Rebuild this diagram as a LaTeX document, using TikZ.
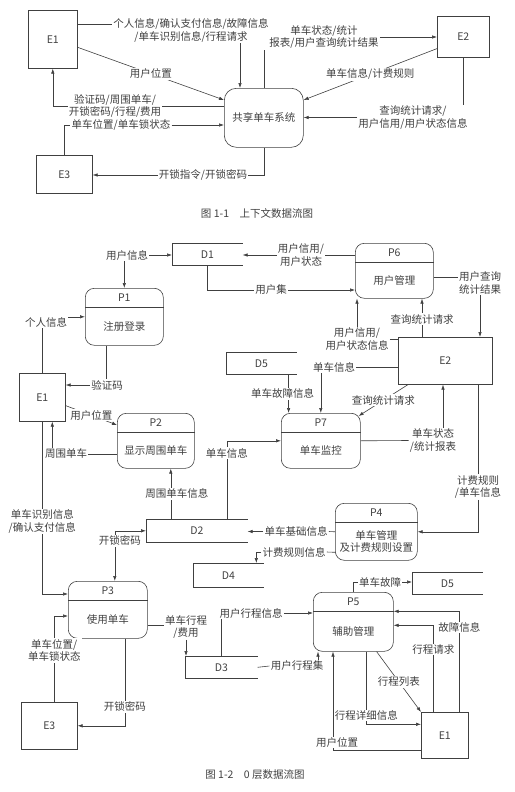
\documentclass[tikz,border=0pt]{standalone}
\usepackage{fontspec}
\setmainfont{Noto Sans CJK SC}
\usetikzlibrary{arrows.meta}

\begin{document}
\begin{tikzpicture}[x=1pt,y=-1pt,font=\fontsize{10.5}{12.5}\selectfont,color=black!75,line width=0.6pt]
    \tikzset{
    ext/.style={draw,anchor=north west,inner sep=0},
    proc/.style={draw,rounded corners=9pt,anchor=north west,inner sep=0},
    store/.style={anchor=north west,inner sep=0},
    lbl/.style={fill=white,inner sep=1pt,align=center},
    flow/.style={-{Latex[length=5pt,width=3.5pt]}}
    }
    \useasboundingbox (0,0) rectangle (514,792);

    % context diagram
    \node[ext,minimum width=49,minimum height=58] (xE1) at (28,10) {E1};
    \node[ext,minimum width=52,minimum height=41] (xE2) at (437,16) {E2};
    \node[ext,minimum width=56,minimum height=38] (xE3) at (36,155) {E3};
    \node[proc,rounded corners=12pt,minimum width=79,minimum height=59] (xSys) at (224,88) {共享单车系统};

    \node[lbl] (t1) at (191,30.5) {个人信息/确认支付信息/故障信息\\/单车识别信息/行程请求};
    \node[lbl] (t2) at (324,37) {单车状态/统计\\报表/用户查询统计结果};
    \node[lbl] (t4) at (413,117.5) {查询统计请求/\\用户信用/用户状态信息};
    \node[lbl] (t6) at (115,106) {验证码/周围单车/\\开锁密码/行程/费用};
    \node[lbl] (t7) at (121,125) {单车位置/单车锁状态};
    \node[lbl] (t8) at (203,175) {开锁指令/开锁密码};

    \coordinate (t1in) at ([yshift=6pt]t1.west);
    \coordinate (t1out) at ([xshift=16pt]xSys.north west);
    \draw (xE1.east |- t1in) -- (t1in);
    \draw[flow] (t1.south -| t1out) -- (t1out);
    \draw (xSys.north) -- (xSys.north |- t2.south);
    \draw[flow] (t2.east) -- (t2.east -| xE2.west);
    \draw[flow] ([yshift=9pt]xE2.south west) -- node[lbl]{单车信息/计费规则} ([yshift=-12pt]xSys.north east);
    \draw (xE2.south) -- (xE2.south |- t4.north);
    \draw[flow] (t4.west) -- (t4.west -| xSys.east);
    \draw[flow] ([yshift=-8pt]xE1.east) -- node[lbl]{用户位置} ([yshift=-12pt]xSys.north west);
    \draw (t6.east -| xSys.west) -- (t6.east);
    \draw[flow] (t6.west) -| (xE1.south);
    \draw (xE3.north) |- (t7.west);
    \draw[flow] (t7.east) -- (t7.east -| xSys.west);
    \draw (xSys.south) |- (t8.east);
    \draw[flow] (t8.west) -- (t8.west -| xE3.east);

    \node (cap1) at (257,213) {图 1-1\quad 上下文数据流图};

    % level 0 diagram
    \foreach \n/\x/\y/\w/\h/\t in {
        P1/85/288/78/57/注册登录,
        P6/355/243/78/55/用户管理,
        P2/117/413/77/55/显示周围单车,
        P7/281/413/79/55/单车监控,
        P4/335/503/82/57/{单车管理\\及计费规则设置},
        P3/68/581/79/57/使用单车,
        P5/313/592/80/59/辅助管理}{
        \node[proc,minimum width=\w,minimum height=\h] (\n) at (\x,\y) {};
        \draw ([yshift=-19pt]\n.north west) -- ([yshift=-19pt]\n.north east);
        \node (\n-id) at ([yshift=-9.5pt]\n.north) {\n};
        \node[align=center] (\n-txt) at ([yshift=-9.5pt]\n.center) {\t};
    }

    \node[ext,minimum width=46,minimum height=48] (E1) at (19,373) {E1};
    \node[ext,minimum width=94,minimum height=47] (E2) at (398,337) {E2};
    \node[ext,minimum width=56,minimum height=47] (E3) at (21,702) {E3};
    \node[ext,minimum width=47,minimum height=46] (E1r) at (421,712) {E1};

    \foreach \n/\x/\y/\w/\h/\t in {D1/172/243/70/22/D1, D5a/226/352/70/22/D5,
        D2/146/519/101/23/D2, D4/193/563/70/24/D4, D5b/412/572/70/22/D5, D3/185/656/72/22/D3}{
        \node[store,minimum width=\w,minimum height=\h] (\n) at (\x,\y) {\t};
        \draw (\n.north east) -- (\n.north west) -- (\n.south west) -- (\n.south east);
    }

    % P1, P6 and E2
    \node[lbl] (f1) at (127,255) {用户信息};
    \draw[flow] (f1.east) -- (f1.east -| D1.west);
    \draw[flow] (f1.south -| P1.north) -- (P1.north);
    \node[lbl] (f2) at (301,255) {用户信用/\\用户状态};
    \draw (f2.east) -- (f2.east -| P6.west);
    \draw[flow] (f2.west) -- (f2.west -| D1.east);
    \node[lbl] (f3) at (271,290) {用户集};
    \draw (D1.south) |- (f3.west);
    \draw[flow] (f3.east) -- (f3.east -| P6.west);
    \node[lbl] (f4) at (480,283) {用户查询\\统计结果};
    \coordinate (f4in) at ([yshift=6pt]f4.west);
    \draw (f4in -| P6.east) -- (f4in);
    \draw[flow] (f4.south) -- (f4.south |- E2.north);
    \node[lbl] (f5) at (422,319) {查询统计请求};
    \draw[flow] (f5.north) -- (f5.north |- P6.south);
    \draw (f5.south) -- (f5.south |- E2.north);
    \node[lbl] (f6) at (357,339) {用户信用/\\用户状态信息};
    \draw (f6.east) -- (f6.east -| E2.west);
    \draw[flow] (f6.north) -- (f6.north |- P6.south);

    % P7
    \node[lbl] (f7) at (334,367) {单车信息};
    \draw (f7.east) -- (f7.east -| E2.west);
    \draw[flow] (f7.south -| P7.north) -- (P7.north);
    \coordinate (f8) at ([xshift=-8pt]D5a.south east);
    \draw[flow] (f8) -- node[lbl,xshift=-6pt]{单车故障信息} (f8 |- P7.north);
    \draw[flow] ([xshift=10pt]E2.south west) -- node[lbl]{查询统计请求} ([shift={(-2pt,-3pt)}]P7.north east);
    \node[lbl] (f10) at (433,440.5) {单车状态\\/统计报表};
    \draw (P7.east) -- (f10.west);
    \coordinate (f10out) at ([xshift=10pt]f10.north);
    \draw[flow] (f10out) -- (f10out |- E2.south);
    \node[lbl] (f11) at (478,487) {计费规则\\/单车信息};
    \draw (f11.north |- E2.south) -- (f11.north);
    \draw[flow] (f11.south) |- (P4.east);
    \coordinate (f12) at ([xshift=30pt]D2.north);
    \draw[flow] (f12) |- node[lbl,pos=0.42]{单车信息} (P7.west);

    % P2 and E1
    \coordinate (f13) at ([xshift=-26pt]D2.north);
    \draw[flow] (f13) -- node[lbl,xshift=6pt]{周围单车信息} (f13 |- P2.south);
    \node[lbl] (f14) at (66,454) {周围单车};
    \draw (f14.east) -- (f14.east -| P2.west);
    \coordinate (f14out) at ([xshift=10pt]E1.south);
    \draw[flow] (f14.north -| f14out) -- (f14out);
    \draw[flow] ([yshift=16pt]E1.south east) -- node[lbl]{用户位置} ([yshift=-12pt]P2.north west);
    \coordinate (f16) at ([xshift=-18pt]P1.south);
    \node[lbl] (f16t) at (107,385) {验证码};
    \draw (f16) -- (f16 |- f16t.north);
    \draw[flow] (f16t.west) -- (f16t.west -| E1.east);
    \draw[flow] (E1.north) |- (P1.west);
    \node[lbl] (f17) at (46,322) {个人信息};

    % P3 and E3
    \coordinate (f18) at ([yshift=-13pt]P3.north west);
    \draw[flow] (E1.south) |- node[lbl,pos=0.29]{单车识别信息\\/确认支付信息} (f18);
    \coordinate (f19) at ([xshift=7pt]P3.north);
    \draw[flow] (f19 |- D2.west) -- (D2.west);
    \draw[flow] (f19 |- D2.west) -- node[lbl,pos=0.2,xshift=5pt]{开锁密码} (f19);
    \coordinate (f20) at ([xshift=5pt]E3.north);
    \coordinate (f20in) at ([yshift=-35pt]P3.north west);
    \draw[flow] (f20) |- node[lbl,pos=0.3]{单车位置/\\单车锁状态} (f20in);
    \coordinate (f21) at ([xshift=17pt]P3.south);
    \draw[flow] (f21) |- node[lbl,pos=0.39]{开锁密码} (E3.east);
    \node[lbl] (f22) at (186,627) {单车行程\\/费用};
    \coordinate (f22in) at ([yshift=-15pt]P3.east);
    \draw (f22in) -- (f22in -| f22.west);
    \draw[flow] (f22.south) -- (f22.south |- D3.north);

    % P5
    \node[lbl] (f23) at (251,613) {用户行程信息};
    \draw (D3.north) -- (D3.north |- f23.south);
    \draw[flow] (f23.east) -- (f23.east -| P5.west);
    \node[lbl] (f24) at (297,666) {用户行程集};
    \draw (D3.east) -- (f24.west);
    \coordinate (f24out) at ([xshift=5pt]P5.south west);
    \draw[flow] (f24.north -| f24out) -- (f24out);
    \coordinate (f25) at ([yshift=-15pt]E1r.west);
    \coordinate (f25out) at ([xshift=20pt]P5.south west);
    \draw[flow] (f25) -| node[lbl,pos=0.535,xshift=4pt,yshift=1pt]{用户位置} (f25out);
    \coordinate (f26) at ([xshift=13pt]P5.south);
    \coordinate (f26in) at ([yshift=11pt]E1r.west);
    \draw[flow] (f26) |- node[lbl,pos=0.44]{行程详细信息} (f26in);
    \draw[flow] ([xshift=-17pt]P5.south east) -- node[lbl]{行程列表} (E1r.north west);
    \coordinate (f28) at ([xshift=-11.5pt]E1r.north);
    \coordinate (f28in) at ([yshift=-3.5pt]P5.east);
    \draw[flow] (f28) |- node[lbl,pos=0.36]{行程请求} (f28in);
    \coordinate (f29) at ([xshift=14.5pt]E1r.north);
    \coordinate (f29in) at ([yshift=10.5pt]P5.east);
    \draw[flow] (f29) |- node[lbl,pos=0.42]{故障信息} (f29in);
    \node[lbl] (f30) at (380,582) {单车故障};
    \draw (P5.north) |- (f30.west);
    \draw[flow] (f30.east) -- (f30.east -| D5b.west);

    % P4
    \node[lbl] (f31) at (296,531.5) {单车基础信息};
    \draw (P4.west) -- (f31.east);
    \draw[flow] (f31.west) -- (f31.west -| D2.east);
    \coordinate (f32) at ([yshift=-20.5pt]P4.west);
    \node[lbl] (f32t) at (294,552) {计费规则信息};
    \draw (f32) -- (f32t.east);
    \coordinate (f32out) at ([xshift=28pt]D4.north);
    \draw[flow] (f32t.west) -| (f32out);

    \node (cap2) at (255,775) {图 1-2\quad 0 层数据流图};
\end{tikzpicture}
\end{document}
